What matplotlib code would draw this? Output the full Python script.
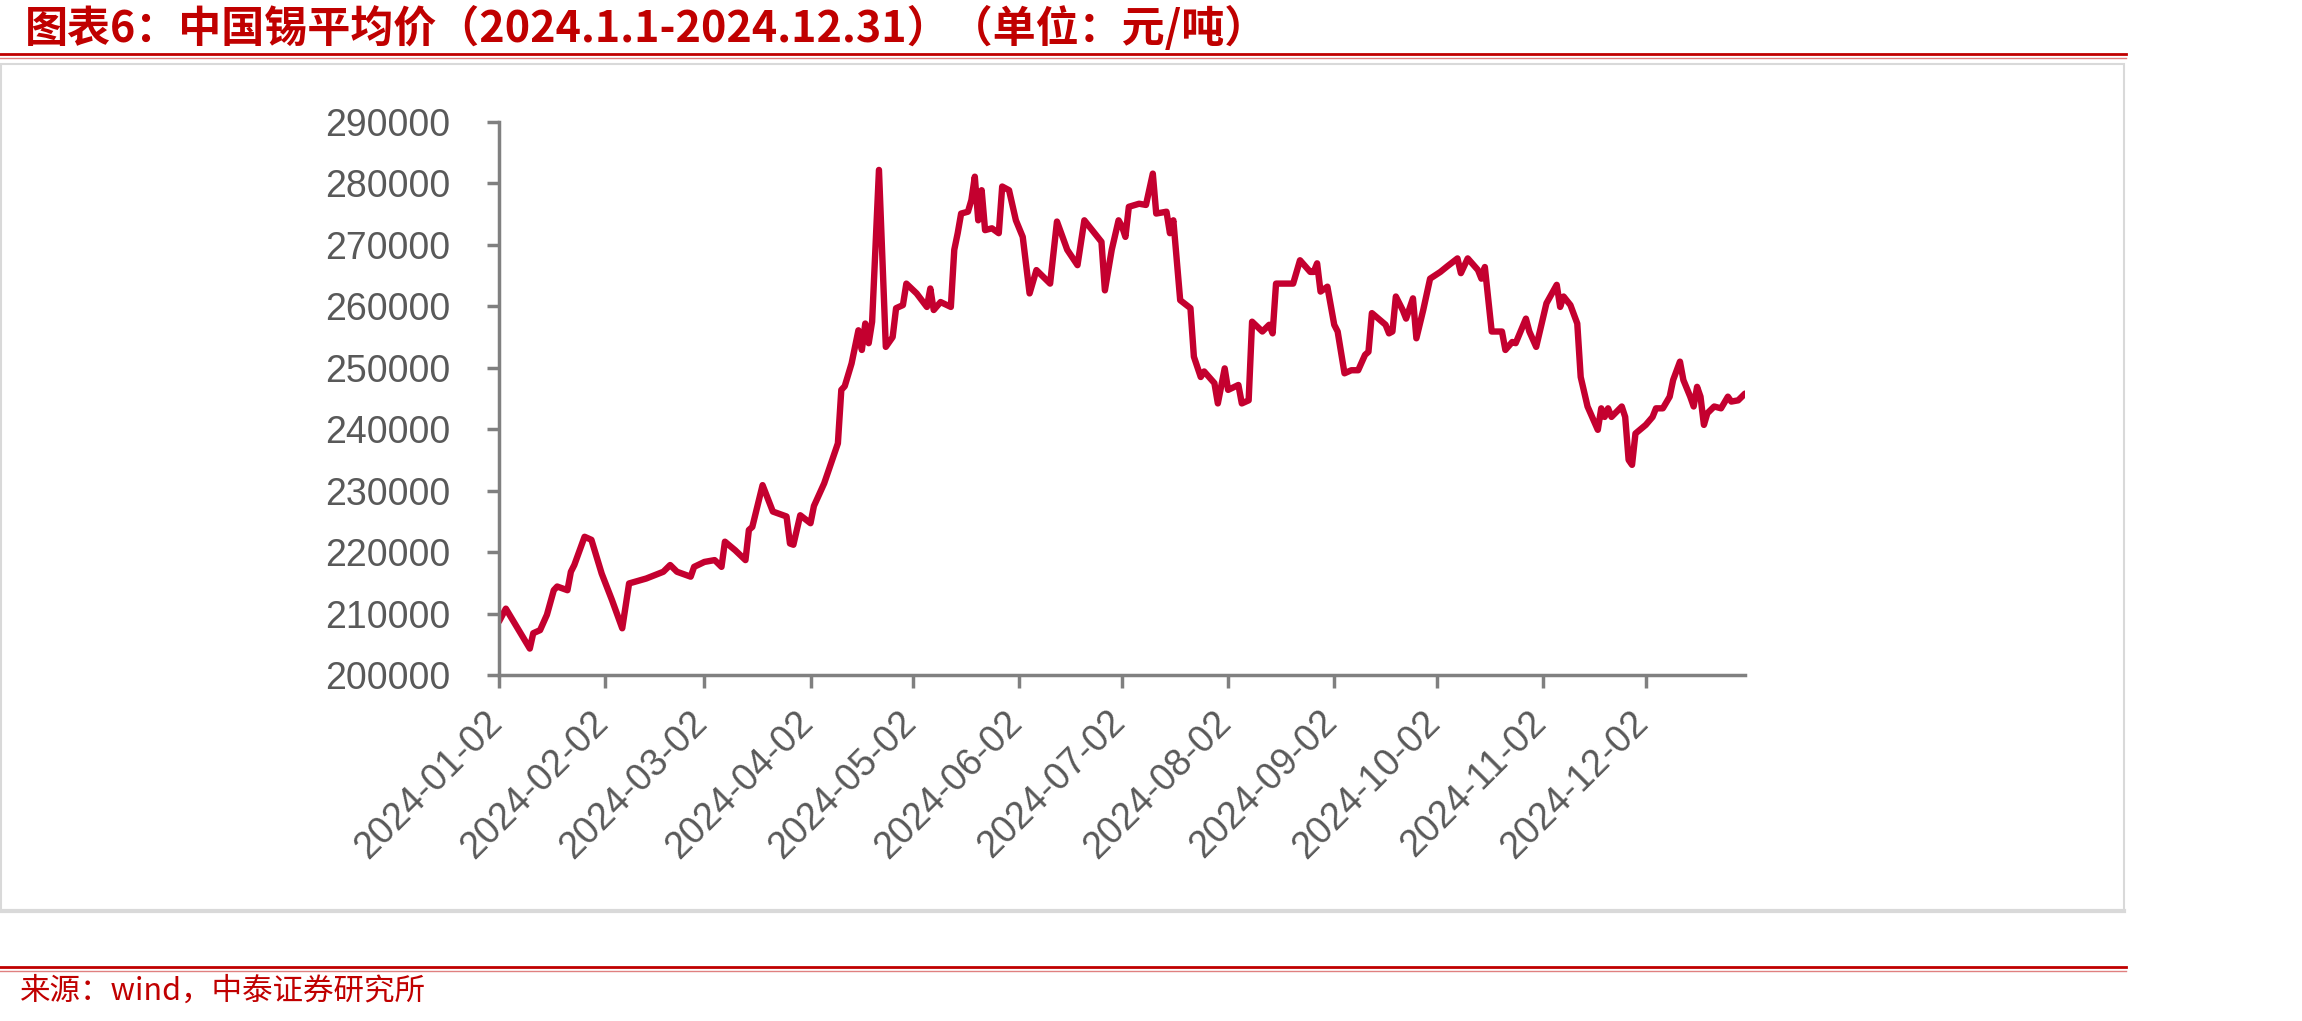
import matplotlib
matplotlib.use("Agg")
import matplotlib.pyplot as plt
from matplotlib.lines import Line2D
from matplotlib.patches import Rectangle
from matplotlib.transforms import ScaledTranslation
import pandas as pd

# 中国锡平均价（元/吨），从图上读取的转折点
dates = [
    "2024-01-02", "2024-01-04", "2024-01-11", "2024-01-12", "2024-01-14", "2024-01-16",
    "2024-01-18", "2024-01-19", "2024-01-22", "2024-01-23", "2024-01-24", "2024-01-27",
    "2024-01-29", "2024-02-01", "2024-02-04", "2024-02-07", "2024-02-09", "2024-02-14",
    "2024-02-19", "2024-02-21", "2024-02-23", "2024-02-27", "2024-02-28", "2024-03-02",
    "2024-03-05", "2024-03-07", "2024-03-08", "2024-03-11", "2024-03-14", "2024-03-15",
    "2024-03-16", "2024-03-19", "2024-03-22", "2024-03-26", "2024-03-27", "2024-03-28",
    "2024-03-30", "2024-04-02", "2024-04-03", "2024-04-06", "2024-04-10", "2024-04-11",
    "2024-04-12", "2024-04-14", "2024-04-16", "2024-04-17", "2024-04-18", "2024-04-19",
    "2024-04-20", "2024-04-22", "2024-04-24", "2024-04-26", "2024-04-27", "2024-04-29",
    "2024-04-30", "2024-05-03", "2024-05-06", "2024-05-07", "2024-05-08", "2024-05-10",
    "2024-05-13", "2024-05-14", "2024-05-15", "2024-05-16", "2024-05-18", "2024-05-19",
    "2024-05-20", "2024-05-21", "2024-05-22", "2024-05-23", "2024-05-25", "2024-05-27",
    "2024-05-28", "2024-05-30", "2024-06-01", "2024-06-03", "2024-06-05", "2024-06-07",
    "2024-06-11", "2024-06-13", "2024-06-16", "2024-06-19", "2024-06-21", "2024-06-24",
    "2024-06-26", "2024-06-27", "2024-06-29", "2024-07-01", "2024-07-02", "2024-07-03",
    "2024-07-04", "2024-07-07", "2024-07-09", "2024-07-11", "2024-07-12", "2024-07-15",
    "2024-07-16", "2024-07-17", "2024-07-19", "2024-07-22", "2024-07-23", "2024-07-25",
    "2024-07-26", "2024-07-29", "2024-07-30", "2024-08-01", "2024-08-02", "2024-08-05",
    "2024-08-06", "2024-08-08", "2024-08-09", "2024-08-12", "2024-08-14", "2024-08-15",
    "2024-08-16", "2024-08-21", "2024-08-23", "2024-08-26", "2024-08-27", "2024-08-28",
    "2024-08-29", "2024-08-31", "2024-09-02", "2024-09-03", "2024-09-05", "2024-09-07",
    "2024-09-09", "2024-09-11", "2024-09-12", "2024-09-13", "2024-09-17", "2024-09-18",
    "2024-09-19", "2024-09-20", "2024-09-22", "2024-09-23", "2024-09-25", "2024-09-26",
    "2024-09-28", "2024-09-30", "2024-10-03", "2024-10-05", "2024-10-08", "2024-10-09",
    "2024-10-11", "2024-10-14", "2024-10-15", "2024-10-16", "2024-10-18", "2024-10-21",
    "2024-10-22", "2024-10-24", "2024-10-25", "2024-10-28", "2024-10-29", "2024-10-31",
    "2024-11-03", "2024-11-06", "2024-11-07", "2024-11-08", "2024-11-10", "2024-11-12",
    "2024-11-13", "2024-11-15", "2024-11-18", "2024-11-19", "2024-11-20", "2024-11-21",
    "2024-11-22", "2024-11-25", "2024-11-26", "2024-11-27", "2024-11-28", "2024-11-29",
    "2024-12-02", "2024-12-04", "2024-12-05", "2024-12-07", "2024-12-09", "2024-12-10",
    "2024-12-12", "2024-12-13", "2024-12-15", "2024-12-16", "2024-12-17", "2024-12-18",
    "2024-12-19", "2024-12-20", "2024-12-22", "2024-12-24", "2024-12-26", "2024-12-27",
    "2024-12-29", "2024-12-31",
]

prices = [
    208700, 210800, 204300, 206800, 207300, 209800,
    213800, 214400, 213800, 216800, 217900, 222500,
    222000, 216500, 212200, 207600, 214900, 215700,
    216800, 217900, 216800, 216000, 217600, 218400,
    218700, 217600, 221700, 220300, 218700, 223600,
    224100, 230900, 226600, 225800, 221400, 221200,
    226000, 224700, 227500, 231200, 237700, 246400,
    247000, 250700, 256100, 252900, 257200, 254000,
    257500, 282200, 253400, 255000, 259700, 260200,
    263700, 262100, 259900, 262900, 259400, 260700,
    259900, 269200, 271900, 275100, 275400, 277300,
    281100, 274000, 278900, 272400, 272700, 271900,
    279500, 278900, 274000, 271300, 262100, 265900,
    263700, 273800, 269200, 266700, 274000, 271900,
    270500, 262600, 269200, 274000, 273000, 271300,
    276200, 276700, 276500, 281600, 275100, 275400,
    271900, 274000, 261000, 259700, 251800, 248500,
    249400, 247500, 244200, 249900, 246400, 247200,
    244200, 244700, 257500, 255900, 257000, 255600,
    263700, 263700, 267500, 265600, 265600, 267000,
    262400, 263200, 257000, 255900, 249100, 249600,
    249600, 252100, 252600, 258900, 257000, 255600,
    255900, 261600, 259400, 258000, 261300, 254800,
    259400, 264500, 265600, 266500, 267800, 265400,
    267800, 265900, 264500, 266400, 255900, 255900,
    252900, 254200, 254000, 258000, 255900, 253400,
    260500, 263500, 259900, 261600, 260200, 257200,
    248500, 243700, 239900, 243400, 242000, 243400,
    242000, 243700, 242000, 235000, 234200, 239300,
    240700, 242000, 243400, 243400, 245300, 248000,
    251000, 248000, 245300, 243700, 246900, 245300,
    240700, 242600, 243700, 243400, 245300, 244500,
    244700, 245800,
]

tick_dates = [
    "2024-01-02", "2024-02-02", "2024-03-02", "2024-04-02", "2024-05-02", "2024-06-02",
    "2024-07-02", "2024-08-02", "2024-09-02", "2024-10-02", "2024-11-02", "2024-12-02",
]
y_ticks = [200000, 210000, 220000, 230000, 240000, 250000, 260000, 270000, 280000, 290000]

title = "图表6：中国锡平均价（2024.1.1-2024.12.31）（单位：元/吨）"
source = "来源：wind，中泰证券研究所"

RED = "#C00000"
GREY = "#808080"
W, H = 2302, 1021

fig = plt.figure(figsize=(W / 100, H / 100), dpi=100)
fig.patch.set_facecolor("white")

# 标题 + 红线
fig.text(25 / W, 1 - 28 / H, title, color=RED, fontsize=31, fontweight="bold",
         family=["Noto Sans CJK SC", "DejaVu Sans"], va="center", ha="left")
fig.add_artist(Line2D([0, 2126 / W], [1 - 54 / H] * 2, color=RED, lw=2.0))
fig.add_artist(Line2D([0, 2126 / W], [1 - 57.5 / H] * 2, color="#E08080", lw=1.0))

# 灰色边框
fig.add_artist(Rectangle((1 / W, 1 - 911 / H), 2123 / W, (911 - 64) / H,
                         transform=fig.transFigure, fill=False,
                         edgecolor="#D9D9D9", lw=1.5))
fig.add_artist(Line2D([1 / W, 2124 / W], [1 - 911 / H] * 2, color="#D9D9D9", lw=3))

# 底部红线 + 来源
fig.add_artist(Line2D([0, 2126 / W], [1 - 967 / H] * 2, color=RED, lw=2.0))
fig.add_artist(Line2D([0, 2126 / W], [1 - 970.5 / H] * 2, color="#E08080", lw=1.0))
fig.text(20 / W, 1 - 991 / H, source, color=RED, fontsize=22,
         family=["Noto Sans CJK SC", "DejaVu Sans"], va="center", ha="left")

# 主图
ax = fig.add_axes([499 / W, 1 - 675 / H, (1745 - 499) / W, (675 - 122) / H])
ax.plot(pd.to_datetime(dates), prices, color="#C4002F", lw=4.6,
        solid_joinstyle="round", solid_capstyle="round")

ax.set_ylim(200000, 290000)
ax.set_yticks(y_ticks)
ax.set_yticklabels([str(v) for v in y_ticks])
ax.set_xlim(pd.Timestamp("2024-01-02"), pd.Timestamp("2024-12-31"))
ax.set_xticks(pd.to_datetime(tick_dates))
ax.set_xticklabels(tick_dates, rotation=45, ha="right", va="top")

for s in ["top", "right"]:
    ax.spines[s].set_visible(False)
for s in ["left", "bottom"]:
    ax.spines[s].set_color(GREY)
    ax.spines[s].set_linewidth(2.5)

ax.tick_params(direction="out", length=9, width=2.5, color=GREY,
               labelcolor="#595959", labelsize=27)
ax.tick_params(axis="y", pad=26)
ax.tick_params(axis="x", pad=12)
for lab in ax.get_xticklabels() + ax.get_yticklabels():
    lab.set_family(["Liberation Sans", "DejaVu Sans"])
offset = ScaledTranslation(10 / 100, 0, fig.dpi_scale_trans)
for lab in ax.get_xticklabels():
    lab.set_transform(lab.get_transform() + offset)

fig.savefig("out.png", dpi=100, facecolor="white")
